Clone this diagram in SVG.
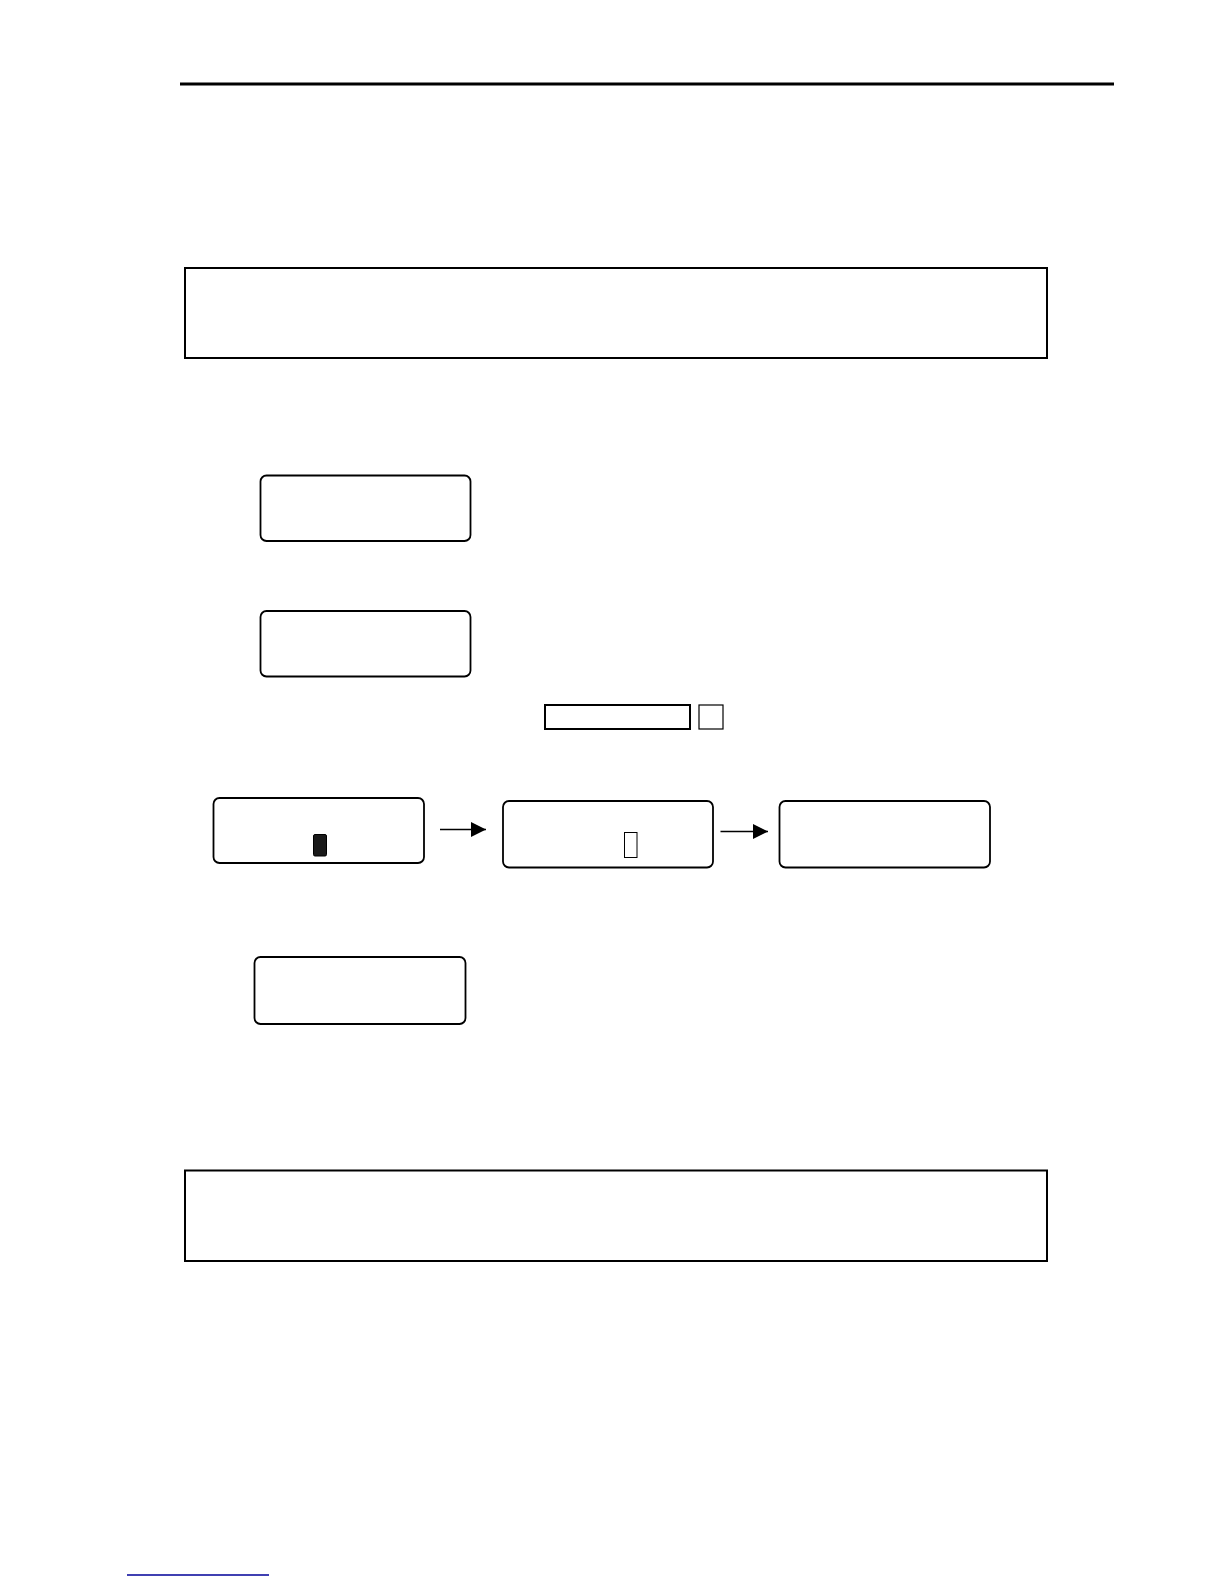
<svg xmlns="http://www.w3.org/2000/svg" width="1224" height="1584" viewBox="0 0 1224 1584">
<style>
.frame{fill:#fff;stroke:#000;stroke-width:2}
.lcd{fill:#fff;stroke:#000;stroke-width:1.8}
.conn{stroke:#000;stroke-width:1.5;fill:none}
</style>
<defs>
<marker id="ah" viewBox="0 0 15 15" refX="15" refY="7.5" markerWidth="15" markerHeight="15" markerUnits="userSpaceOnUse" orient="auto">
<path d="M0,0 L15,7.5 L0,15 Z" fill="#000"/>
</marker>
</defs>
<rect width="1224" height="1584" fill="#fff"/>
<line x1="180" y1="84" x2="1114" y2="84" stroke="#000" stroke-width="3"/>
<g id="box-top"><rect class="frame" x="185" y="268" width="862" height="90"/></g>
<g id="lcd-a"><rect class="lcd" x="260.5" y="475.5" width="210" height="65.5" rx="6"/></g>
<g id="lcd-b"><rect class="lcd" x="260.5" y="611" width="210" height="65.5" rx="6"/></g>
<g id="key-wide"><rect x="545" y="705" width="145" height="24" fill="#fff" stroke="#000" stroke-width="2"/></g>
<g id="key-small"><rect x="699" y="705" width="24" height="24" fill="#fff" stroke="#000" stroke-width="1.2"/></g>
<g id="lcd-c"><rect class="lcd" x="213.5" y="798" width="210.5" height="65" rx="6"/><rect x="313.5" y="834.5" width="13" height="21.5" rx="1.5" fill="#1a1a1a" stroke="#000" stroke-width="1"/></g>
<g id="lcd-d"><rect class="lcd" x="503" y="801" width="210" height="66.5" rx="6"/><rect x="624.5" y="832.5" width="12.5" height="25" fill="#fff" stroke="#000" stroke-width="1"/></g>
<g id="lcd-e"><rect class="lcd" x="779.5" y="801" width="210.5" height="66.5" rx="6"/></g>
<g id="lcd-f"><rect class="lcd" x="254.5" y="957" width="211" height="67" rx="6"/></g>
<g id="box-bottom"><rect class="frame" x="185" y="1170.5" width="862" height="90.5"/></g>
<g id="connectors">
<line class="conn" x1="440" y1="829.5" x2="486" y2="829.5" marker-end="url(#ah)"/>
<line class="conn" x1="720.5" y1="831.5" x2="768" y2="831.5" marker-end="url(#ah)"/>
</g>
<line x1="127" y1="1575" x2="269" y2="1575" stroke="#000099" stroke-width="1.6"/>
</svg>
